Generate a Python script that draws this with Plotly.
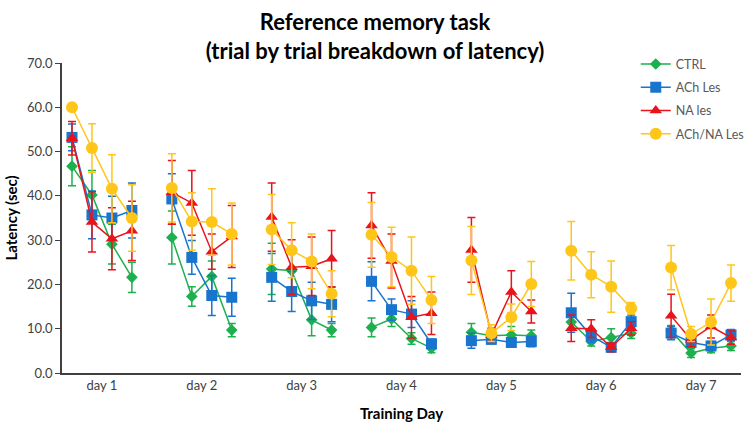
import plotly.graph_objects as go

days = ["day 1", "day 2", "day 3", "day 4", "day 5", "day 6", "day 7"]
trials_per_day = 4

series_names = ["CTRL", "ACh Les", "NA les", "ACh/NA Les"]

ctrl = [46.7, 40.2, 29.1, 21.6, 30.6, 17.3, 21.8, 9.7, 23.5, 23.1, 12.0, 9.7, 10.3, 12.2,
        7.8, 5.6, 9.2, 8.4, 8.6, 8.4, 11.5, 7.1, 8.0, 9.0, 9.5, 4.5, 5.6, 6.1]
ctrl_err = [4.4, 5.5, 4.5, 3.4, 6.0, 2.2, 3.5, 1.5, 5.8, 5.0, 3.6, 1.5, 2.1, 1.7,
            1.3, 1.0, 2.0, 1.0, 1.9, 1.3, 1.5, 1.0, 2.0, 1.2, 1.2, 1.0, 1.0, 1.0]

ach = [53.2, 35.7, 35.0, 36.7, 39.3, 26.1, 17.5, 17.1, 21.6, 18.4, 16.3, 15.5, 20.7, 14.3,
       13.3, 6.6, 7.3, 7.6, 6.9, 7.1, 13.6, 8.4, 5.8, 11.6, 9.0, 6.9, 6.1, 8.6]
ach_err = [3.0, 5.4, 4.9, 6.2, 5.7, 3.8, 4.5, 4.3, 5.4, 4.5, 4.2, 3.9, 4.4, 2.4,
           3.0, 1.0, 1.7, 1.0, 1.0, 1.2, 4.4, 1.5, 1.0, 1.5, 1.5, 1.0, 1.0, 1.2]

na = [53.0, 34.1, 30.3, 32.1, 40.8, 38.4, 27.4, 30.8, 35.2, 23.9, 24.1, 25.8, 33.3, 25.3,
      12.6, 13.5, 27.8, 8.6, 18.3, 13.9, 10.1, 10.0, 5.8, 10.1, 12.9, 7.5, 10.5, 8.0]
na_err = [3.8, 6.8, 7.0, 6.7, 7.2, 7.3, 4.0, 7.0, 7.7, 6.2, 6.6, 6.4, 7.4, 6.1,
          4.7, 4.8, 7.3, 1.5, 4.8, 2.6, 3.0, 2.0, 1.0, 1.5, 4.9, 1.5, 2.6, 1.5]

achna = [60.0, 50.8, 41.6, 35.0, 41.8, 34.2, 34.1, 31.4, 32.4, 27.7, 25.2, 17.9, 31.2, 26.2,
         23.1, 16.5, 25.4, 9.0, 12.6, 20.1, 27.6, 22.2, 19.5, 14.6, 23.8, 8.8, 11.5, 20.3]
achna_err = [0.5, 5.5, 7.7, 7.5, 7.7, 6.5, 7.5, 7.0, 7.9, 6.2, 6.2, 5.2, 7.3, 6.7,
             7.6, 5.3, 7.7, 1.9, 3.0, 5.1, 6.6, 5.2, 5.8, 1.3, 5.0, 1.7, 5.2, 4.1]

colors = ["#1DB04E", "#1874CD", "#E8131B", "#FFC61A"]
symbols = ["diamond", "square", "triangle-up", "circle"]
sizes = [9, 11, 11, 12]

slot = trials_per_day + 1


def expand(vals):
    """Insert a gap (None) between days so lines break."""
    xs, ys = [], []
    for d in range(len(days)):
        for t in range(trials_per_day):
            xs.append(d * slot + t)
            ys.append(vals[d * trials_per_day + t])
        if d < len(days) - 1:
            xs.append(d * slot + trials_per_day)
            ys.append(None)
    return xs, ys


fig = go.Figure()
for name, vals, errs, c, s, sz in zip(series_names, [ctrl, ach, na, achna],
                                       [ctrl_err, ach_err, na_err, achna_err],
                                       colors, symbols, sizes):
    xs, ys = expand(vals)
    _, es = expand(errs)
    fig.add_trace(go.Scatter(
        x=xs, y=ys, name=name, mode="lines+markers", legendgroup=name,
        connectgaps=False,
        line=dict(color=c, width=1.5),
        marker=dict(color=c, symbol=s, size=sz),
        error_y=dict(type="data", array=es, visible=True, color=c, thickness=1.5, width=4),
    ))

tickvals = [d * slot + (trials_per_day - 1) / 2 for d in range(len(days))]

fig.update_layout(
    width=750, height=434,
    paper_bgcolor="white", plot_bgcolor="white",
    margin=dict(l=62, r=1, t=63, b=61),
    font=dict(family="Lato, Open Sans, sans-serif", color="#595959", size=12),
    title=dict(text="<b>Reference memory task<br>(trial by trial breakdown of latency)</b>",
               x=0.5, xanchor="center", xref="container",
               y=1 - 30 / 434, yanchor="middle", yref="container",
               font=dict(size=22, color="#000000", family="Lato, sans-serif")),
    legend=dict(x=0.845, y=1.044, xanchor="left", yanchor="top",
                bgcolor="rgba(0,0,0,0)", font=dict(size=12.5, color="#595959"),
                tracegroupgap=4, itemwidth=30),
    showlegend=True,
)
fig.update_xaxes(range=[-0.5, len(days) * slot - 1.5], tickvals=tickvals, ticktext=days,
                 showgrid=False, zeroline=False, showline=True, linecolor="#404040",
                 linewidth=1.5, ticks="", tickfont=dict(size=13, color="#404040"),
                 title=dict(text="<b>Training Day</b>", font=dict(size=15, color="#000000"),
                            standoff=16))
fig.update_yaxes(range=[0, 70], dtick=10, tickformat=".1f", showgrid=False,
                 zeroline=False, showline=True, linecolor="#404040", linewidth=1.5,
                 ticks="outside", ticklen=5, tickcolor="#404040",
                 tickfont=dict(size=13, color="#404040"),
                 title=dict(text="<b>Latency (sec)</b>", font=dict(size=15, color="#000000"),
                            standoff=6))

fig.write_html("out.html", config={"displayModeBar": False},
               post_script="document.body.style.margin='0';")
